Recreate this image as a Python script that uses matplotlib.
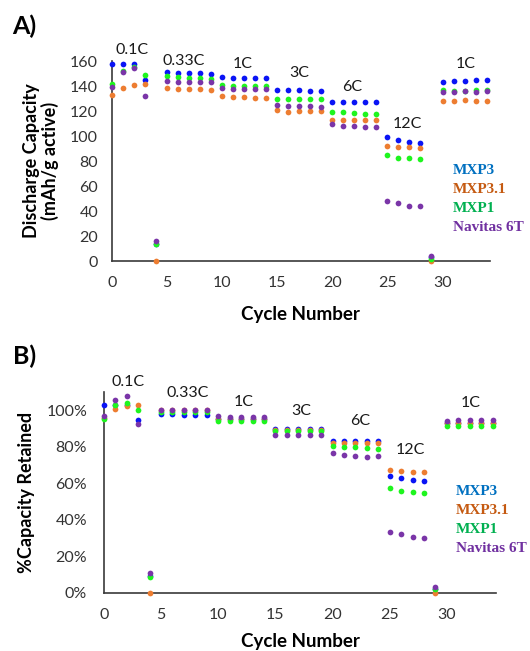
"""Discharge capacity and capacity retention vs. cycle number for four cathode materials."""

import matplotlib
matplotlib.use("Agg")
import matplotlib.pyplot as plt
from matplotlib.ticker import PercentFormatter

OUTPUT_PNG = "out.png"

CYCLES = list(range(35))
SERIES = ["MXP3", "MXP3.1", "MXP1", "Navitas 6T"]
MARKER_COLORS = ["#0A14F5", "#ED7D31", "#1EF51E", "#7A35A8"]
TEXT_COLORS = ["#0070C0", "#C55A11", "#00B050", "#7030A0"]

# Discharge capacity, mAh/g active
CAP_MXP3 = [157.6, 157.6, 157.6, 144.8, 14.0,
            151.2, 150.7, 150.7, 150.7, 150.1,
            147.2, 146.4, 146.4, 146.4, 146.4,
            137.3, 136.8, 136.8, 136.3, 135.8,
            127.2, 127.2, 127.2, 127.2, 127.2,
            99.0, 97.0, 95.4, 94.9, 3.0,
            143.7, 144.3, 144.3, 145.0, 145.0]
CAP_MXP31 = [133.3, 138.7, 141.3, 141.9, 0.0,
             138.7, 137.9, 137.9, 137.9, 137.3,
             132.0, 131.5, 131.0, 130.2, 130.4,
             120.8, 119.5, 120.3, 120.3, 120.3,
             112.8, 112.8, 112.8, 112.8, 112.8,
             92.3, 91.7, 91.2, 90.7, 0.0,
             128.3, 128.3, 128.6, 128.3, 128.3]
CAP_MXP1 = [141.9, 152.3, 155.0, 148.8, 13.6,
            148.0, 147.5, 146.9, 146.9, 146.1,
            140.8, 140.0, 140.0, 140.0, 140.0,
            129.6, 129.6, 129.6, 129.6, 129.6,
            119.7, 119.2, 118.4, 118.1, 117.8,
            85.3, 82.9, 82.4, 81.4, 2.0,
            136.8, 136.5, 136.5, 136.8, 136.8]
CAP_NAVITAS = [139.5, 151.2, 154.4, 132.5, 15.7,
               144.0, 143.5, 143.5, 143.5, 143.0,
               138.7, 138.1, 138.1, 138.1, 138.1,
               124.8, 124.3, 124.3, 124.3, 123.7,
               110.1, 108.0, 108.0, 107.5, 107.5,
               48.0, 46.1, 44.3, 43.7, 4.3,
               135.5, 135.5, 136.0, 135.5, 136.0]

# Capacity retained, %
RET_MXP3 = [103.1, 103.0, 103.0, 94.5, 9.0,
            98.0, 98.0, 97.6, 97.6, 97.3,
            95.5, 95.5, 95.5, 95.5, 95.3,
            89.9, 89.9, 89.9, 89.9, 89.9,
            83.5, 83.5, 83.5, 83.5, 83.5,
            64.1, 62.9, 61.9, 61.4, 2.0,
            93.0, 93.0, 93.0, 93.0, 93.0]
RET_MXP31 = [96.0, 100.8, 102.2, 103.1, 0.0,
             100.2, 100.2, 100.2, 100.2, 100.2,
             95.5, 95.5, 95.5, 95.5, 95.5,
             89.4, 89.4, 89.4, 89.4, 89.4,
             82.4, 82.4, 82.4, 82.4, 82.4,
             67.2, 66.9, 66.5, 66.1, 0.0,
             93.0, 93.0, 93.0, 93.0, 93.0]
RET_MXP1 = [95.4, 103.1, 104.1, 100.4, 8.8,
            99.1, 99.1, 99.1, 99.1, 99.1,
            94.3, 94.3, 94.3, 94.3, 94.0,
            88.5, 88.5, 88.5, 88.5, 88.5,
            80.6, 80.2, 79.9, 79.5, 79.1,
            57.7, 55.9, 55.5, 54.9, 2.0,
            91.2, 91.2, 91.2, 91.2, 91.2]
RET_NAVITAS = [97.1, 105.5, 108.1, 92.7, 10.6,
               100.4, 100.4, 100.4, 100.4, 100.4,
               96.7, 96.4, 96.4, 96.4, 96.2,
               86.6, 86.6, 86.6, 86.6, 86.6,
               76.6, 75.5, 75.1, 74.7, 75.1,
               33.5, 32.1, 30.8, 30.2, 3.0,
               94.2, 94.5, 94.9, 94.9, 94.9]

RATES = ["0.1C", "0.33C", "1C", "3C", "6C", "12C", "1C"]
# label anchors (cycle, value) for the rate annotations
RATE_POS_CAP = [(1.8, 168.8), (6.5, 160.2), (11.9, 157.6), (17.0, 150.4),
                (21.8, 139.2), (26.8, 109.6), (32.1, 157.6)]
RATE_POS_RET = [(2.1, 115.6), (7.3, 109.6), (12.2, 104.6), (17.3, 99.8),
                (22.4, 94.3), (26.8, 78.4), (32.1, 103.9)]

SANS = ["Lato", "DejaVu Sans"]
AXIS_GREY = "#3a3a3a"


def style_axes(ax, ylim, xpad, ypad):
    ax.set_xlim(0, 34.3)
    ax.set_ylim(*ylim)
    ax.set_xticks(range(0, 31, 5))
    for side in ("top", "right"):
        ax.spines[side].set_visible(False)
    for side in ("left", "bottom"):
        ax.spines[side].set_color(AXIS_GREY)
        ax.spines[side].set_linewidth(1.2)
    ax.tick_params(length=0, labelsize=11.5, labelcolor="#333333")
    ax.tick_params(axis="x", pad=xpad)
    ax.tick_params(axis="y", pad=ypad)
    for lbl in ax.get_xticklabels() + ax.get_yticklabels():
        lbl.set_family(SANS)


def draw_panel(fig, ax, data, rate_pos, legend_xy):
    for vals, col in zip(data, MARKER_COLORS):
        ax.scatter(CYCLES, vals, s=17, color=col, linewidths=0,
                   clip_on=False, zorder=3)
    for txt, (x, y) in zip(RATES, rate_pos):
        ax.text(x, y, txt, ha="center", va="center", fontsize=11.5,
                family=SANS, color="#1a1a1a")
    lx, ly = legend_xy
    for i, (name, col) in enumerate(zip(SERIES, TEXT_COLORS)):
        fig.text(lx / 530, 1 - (ly + i * 19.1) / 651, name,
                 ha="left", va="center", fontsize=11, fontweight="bold",
                 family="Liberation Serif", color=col)


def main():
    fig = plt.figure(figsize=(5.30, 6.51), dpi=100)

    ax1 = fig.add_axes([0.2113, 0.599, 0.713, 0.307])
    draw_panel(fig, ax1, [CAP_MXP3, CAP_MXP31, CAP_MXP1, CAP_NAVITAS],
               RATE_POS_CAP, (453, 170))
    style_axes(ax1, (0, 160), 11, 10)
    ax1.set_yticks(range(0, 161, 20))
    ax1.set_ylabel("Discharge Capacity\n(mAh/g active)", fontsize=13,
                   fontweight="bold", family=SANS, labelpad=8, linespacing=1.05)
    ax1.set_xlabel("Cycle Number", fontsize=13.5, fontweight="bold",
                   family=SANS, labelpad=11)

    ax2 = fig.add_axes([0.196, 0.0896, 0.740, 0.309])
    draw_panel(fig, ax2, [RET_MXP3, RET_MXP31, RET_MXP1, RET_NAVITAS],
               RATE_POS_RET, (456, 491.5))
    style_axes(ax2, (0, 110.4), 11, 12)
    ax2.set_yticks(range(0, 101, 20))
    ax2.yaxis.set_major_formatter(PercentFormatter(xmax=100, decimals=0))
    for lbl in ax2.get_yticklabels():
        lbl.set_family(SANS)
    ax2.set_ylabel("%Capacity Retained", fontsize=13, fontweight="bold",
                   family=SANS, labelpad=8)
    ax2.set_xlabel("Cycle Number", fontsize=13.5, fontweight="bold",
                   family=SANS, labelpad=8)

    fig.text(0.022, 0.960, "A)", fontsize=18, fontweight="bold",
             family=SANS, va="center")
    fig.text(0.024, 0.453, "B)", fontsize=18, fontweight="bold",
             family=SANS, va="center")

    fig.savefig(OUTPUT_PNG, dpi=100)


if __name__ == "__main__":
    main()
